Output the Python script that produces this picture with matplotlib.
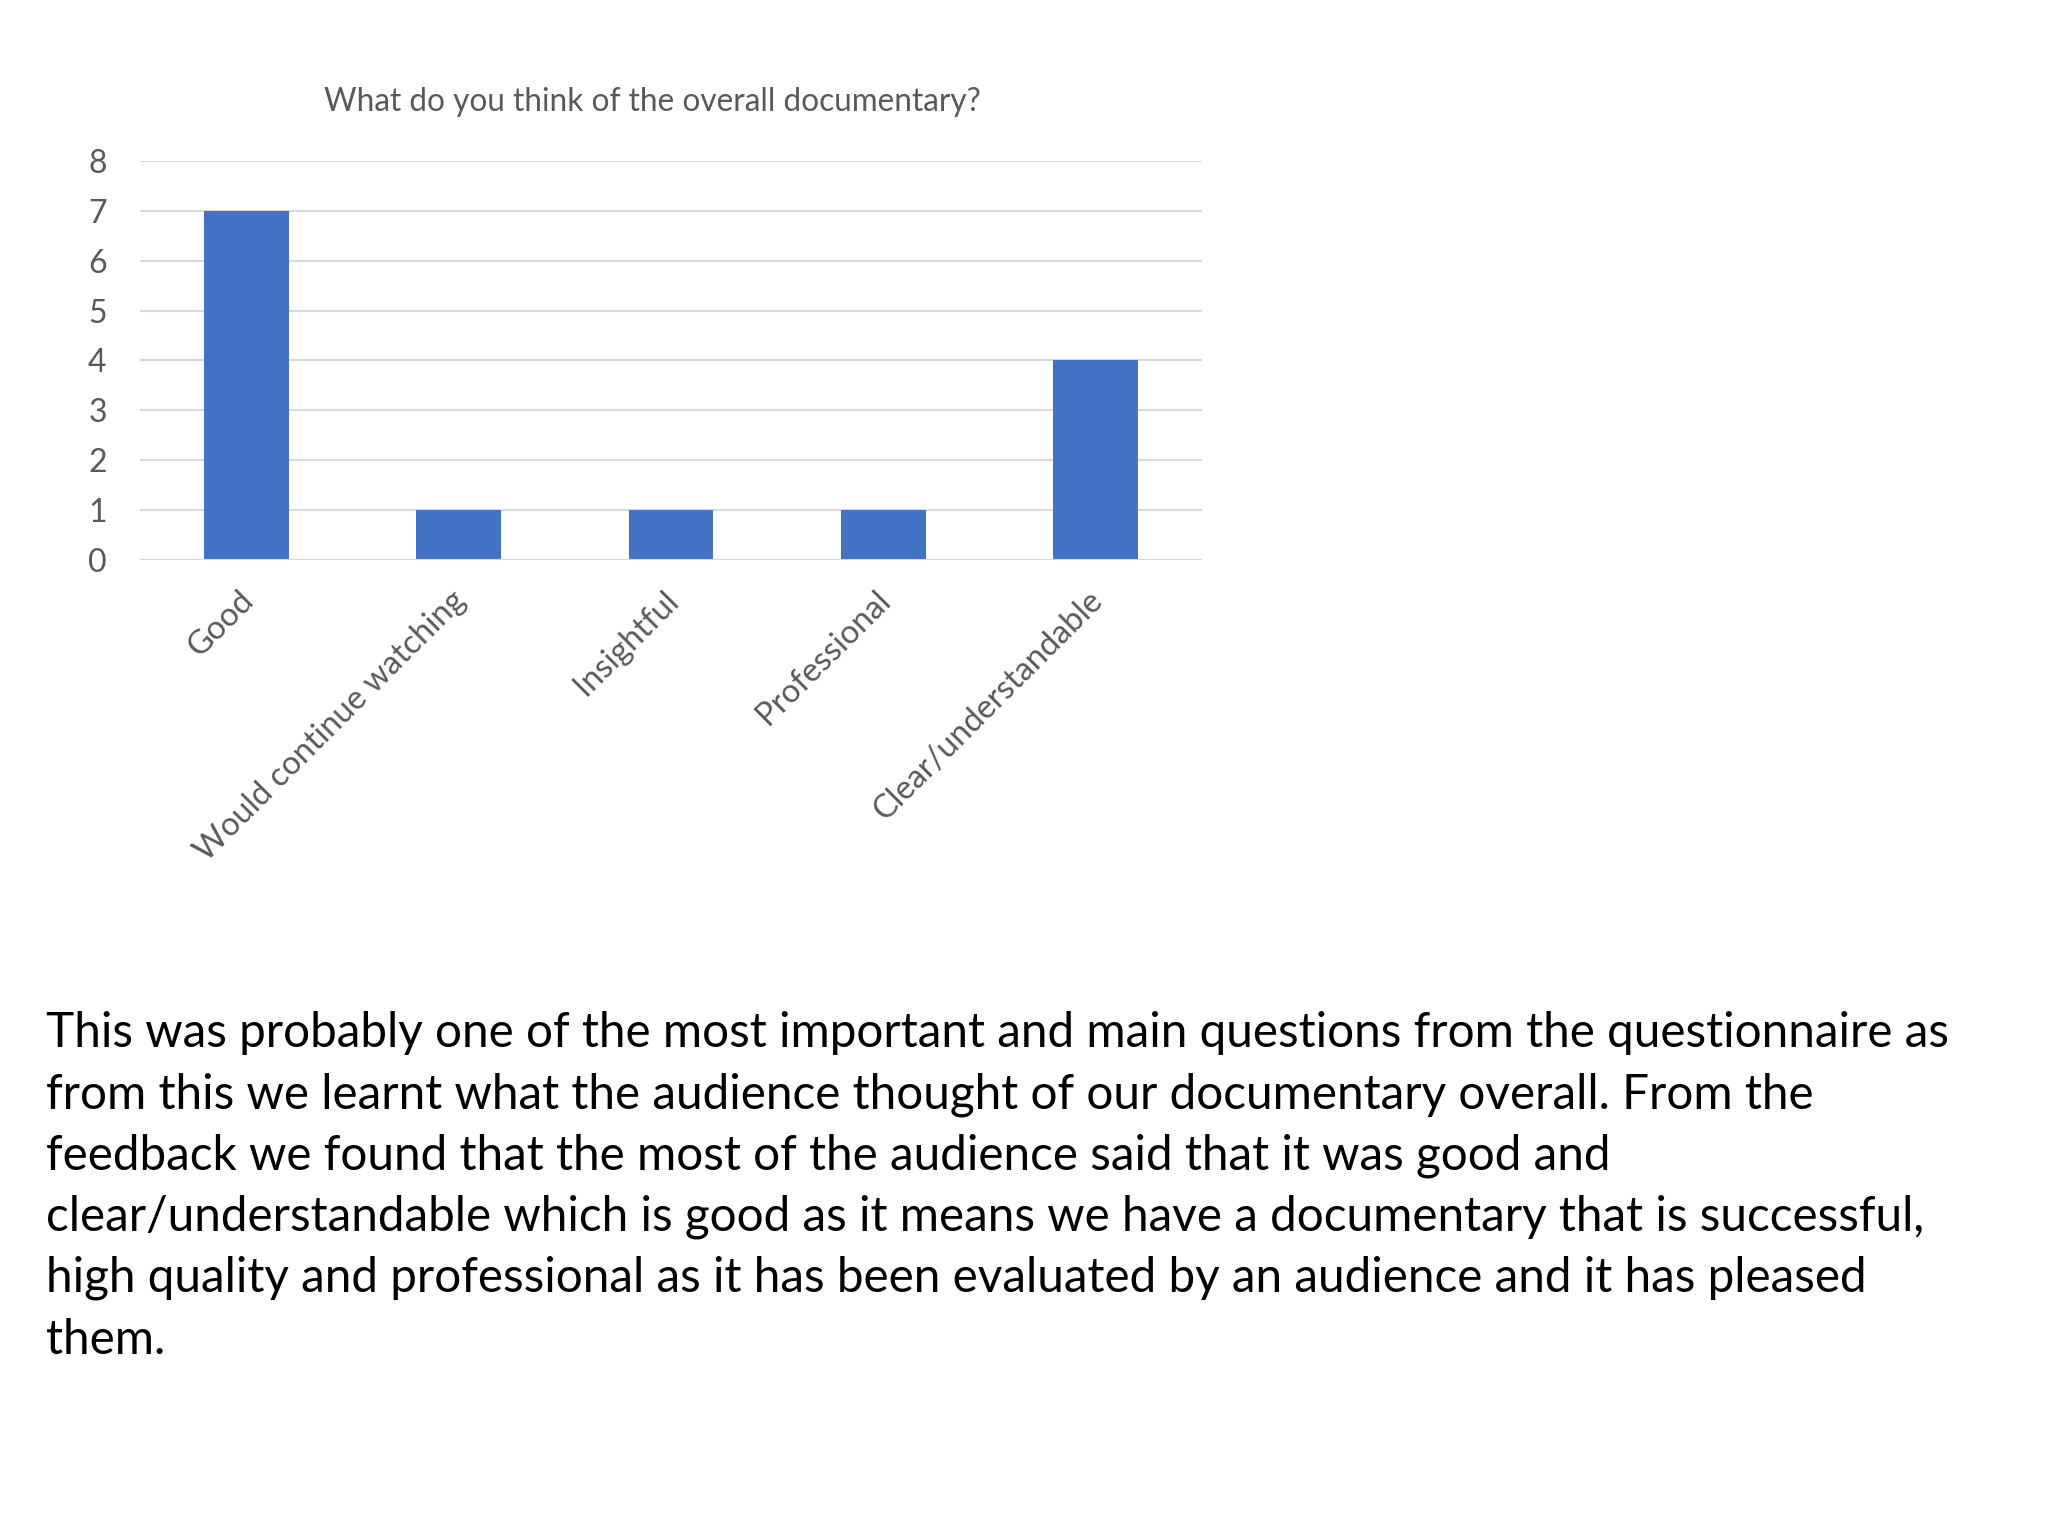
import matplotlib
matplotlib.use('Agg')
import matplotlib.pyplot as plt
import matplotlib.transforms as mtransforms

# данные
categories = ['Good', 'Would continue watching', 'Insightful', 'Professional', 'Clear/understandable']
counts = [7, 1, 1, 1, 4]
y_ticks = [0, 1, 2, 3, 4, 5, 6, 7, 8]
title = 'What do you think of the overall documentary?'
paragraph = [
    'This was probably one of the most important and main questions from the questionnaire as',
    'from this we learnt what the audience thought of our documentary overall. From the',
    'feedback we found that the most of the audience said that it was good and',
    'clear/understandable which is good as it means we have a documentary that is successful,',
    'high quality and professional as it has been evaluated by an audience and it has pleased',
    'them.',
]

plt.rcParams['font.family'] = ['Lato', 'DejaVu Sans']
grey = '#595959'
W, H = 2048, 1536

fig = plt.figure(figsize=(20.48, 15.36), dpi=100)
fig.patch.set_facecolor('white')

# область графика (пиксели переводим в доли)
left, right, top, bottom = 140, 1202, 161, 560
ax = fig.add_axes([left / W, 1 - bottom / H, (right - left) / W, (bottom - top) / H])

x = range(len(categories))
ax.bar(x, counts, width=0.4, color='#4472C4', zorder=3)

ax.set_xlim(-0.5, len(categories) - 0.5)
ax.set_ylim(0, 8)
ax.set_yticks(y_ticks)
ax.set_yticklabels([str(v) for v in y_ticks], fontsize=23, color=grey)
ax.set_xticks(list(x))
ax.set_xticklabels(categories, rotation=45, ha='right', rotation_mode='anchor',
                   fontsize=23.5, color=grey)
ax.tick_params(axis='both', length=0)
ax.tick_params(axis='y', pad=24)
ax.tick_params(axis='x', pad=14)

# сдвиг подписей категорий чуть влево и вниз
shift = mtransforms.ScaledTranslation(-8 / 100, -6 / 100, fig.dpi_scale_trans)
for lbl in ax.get_xticklabels():
    lbl.set_transform(lbl.get_transform() + shift)

ax.grid(axis='y', color='#D9D9D9', linewidth=1.5, zorder=0)
for s in ax.spines.values():
    s.set_visible(False)
ax.axhline(0, color='#D9D9D9', linewidth=1.5, zorder=4)

fig.text(652 / W, 1 - 102 / H, title, ha='center', va='center', fontsize=22.7, color=grey)

# текст под графиком
y0 = 1033
for i, line in enumerate(paragraph):
    fig.text(46 / W, 1 - (y0 + i * 61.3) / H, line, ha='left', va='center',
             fontsize=34.3, color='black')

fig.savefig('out.png', dpi=100, facecolor='white')
